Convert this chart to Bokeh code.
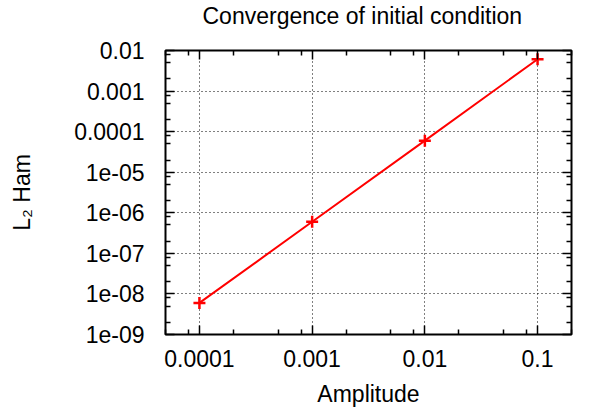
from bokeh.plotting import figure
from bokeh.models import Range1d, FixedTicker, LogAxis
from bokeh.embed import file_html
from bokeh.resources import INLINE

# data
amplitude = [1e-4, 1e-3, 1e-2, 1e-1]
l2_ham = [6.0e-9, 6.0e-7, 6.0e-5, 6.1e-3]

x_ticks = [1e-4, 1e-3, 1e-2, 1e-1]
x_tick_labels = ["0.0001", "0.001", "0.01", "0.1"]
y_ticks = [1e-9, 1e-8, 1e-7, 1e-6, 1e-5, 1e-4, 1e-3, 1e-2]
y_tick_labels = ["1e-09", "1e-08", "1e-07", "1e-06", "1e-05", "0.0001", "0.001", "0.01"]
minor_mult = [2, 5, 8]
title_text = "Convergence of initial condition"

FONT = "Liberation Sans"
FS = "23px"

x_min, x_max = 5e-5, 0.2
y_min, y_max = 1e-9, 1e-2

def minors(lo_exp, hi_exp, lo, hi):
    out = []
    for e in range(lo_exp, hi_exp + 1):
        for m in minor_mult:
            v = m * 10.0 ** e
            if lo <= v <= hi:
                out.append(v)
    return out

x_minor = minors(-6, 0, x_min, x_max)
y_minor = minors(-10, -2, y_min, y_max)

p = figure(
    output_backend="svg", toolbar_location=None,
    x_axis_type="log", y_axis_type="log",
    x_range=Range1d(x_min, x_max), y_range=Range1d(y_min, y_max),
    width=590, height=409,
    min_border_left=165, min_border_right=19, min_border_top=50, min_border_bottom=75,
    title=title_text,
)
p.background_fill_color = "white"
p.border_fill_color = "white"
p.outline_line_color = "black"
p.outline_line_width = 2

p.title.text_font = FONT
p.title.text_font_size = FS
p.title.text_font_style = "normal"
p.title.align = "left"
p.title.offset = 37
p.title.vertical_align = "top"
p.title.standoff = 2
p.title.text_color = "black"

xt = FixedTicker(ticks=x_ticks, minor_ticks=x_minor)
yt = FixedTicker(ticks=y_ticks, minor_ticks=y_minor)

def style_axis(ax, ticker, labels):
    ax.ticker = ticker
    ax.axis_line_color = None
    ax.major_tick_in = 9
    ax.major_tick_out = 0
    ax.minor_tick_in = 5
    ax.minor_tick_out = 0
    ax.major_tick_line_color = "black"
    ax.minor_tick_line_color = "black"
    ax.major_tick_line_width = 1.5
    ax.minor_tick_line_width = 1.5
    ax.major_label_text_font = FONT
    ax.major_label_text_font_size = FS
    ax.major_label_text_color = "black"
    ax.axis_label_text_font = FONT
    ax.axis_label_text_font_size = FS
    ax.axis_label_text_font_style = "normal"
    ax.axis_label_text_color = "black"
    ax.major_label_overrides = labels

style_axis(p.xaxis[0], xt, dict(zip(x_ticks, x_tick_labels)))
style_axis(p.yaxis[0], yt, dict(zip(y_ticks, y_tick_labels)))
p.xaxis[0].axis_label = "Amplitude"
p.xaxis[0].major_label_standoff = 15
p.xaxis[0].axis_label_standoff = 11
p.yaxis[0].axis_label = "L\u2082 Ham"
p.yaxis[0].major_label_standoff = 21
p.yaxis[0].axis_label_standoff = 36

for side, tk, tv in (("right", yt, y_ticks), ("above", xt, x_ticks)):
    ax = LogAxis()
    style_axis(ax, tk, {t: "" for t in tv})
    ax.major_label_standoff = 0
    p.add_layout(ax, side)

# invisible spacer axis between the frame and the title
spacer = LogAxis()
style_axis(spacer, xt, {t: "" for t in x_ticks})
spacer.major_label_standoff = 0
spacer.major_tick_in = 0
spacer.minor_tick_in = 0
spacer.major_tick_out = 19
spacer.minor_tick_out = 0
spacer.major_tick_line_color = None
spacer.minor_tick_line_color = None
p.add_layout(spacer, "above")

p.xgrid.ticker = xt
p.ygrid.ticker = yt
for g in (p.xgrid[0], p.ygrid[0]):
    g.grid_line_color = "black"
    g.grid_line_width = 1
    g.grid_line_dash = "1 3"
    g.grid_line_alpha = 1.0

p.line(amplitude, l2_ham, line_color="red", line_width=2)
p.scatter(amplitude, l2_ham, marker="cross", size=12, line_color="red", line_width=2.5)

open("out.html", "w").write(file_html(p, INLINE))
